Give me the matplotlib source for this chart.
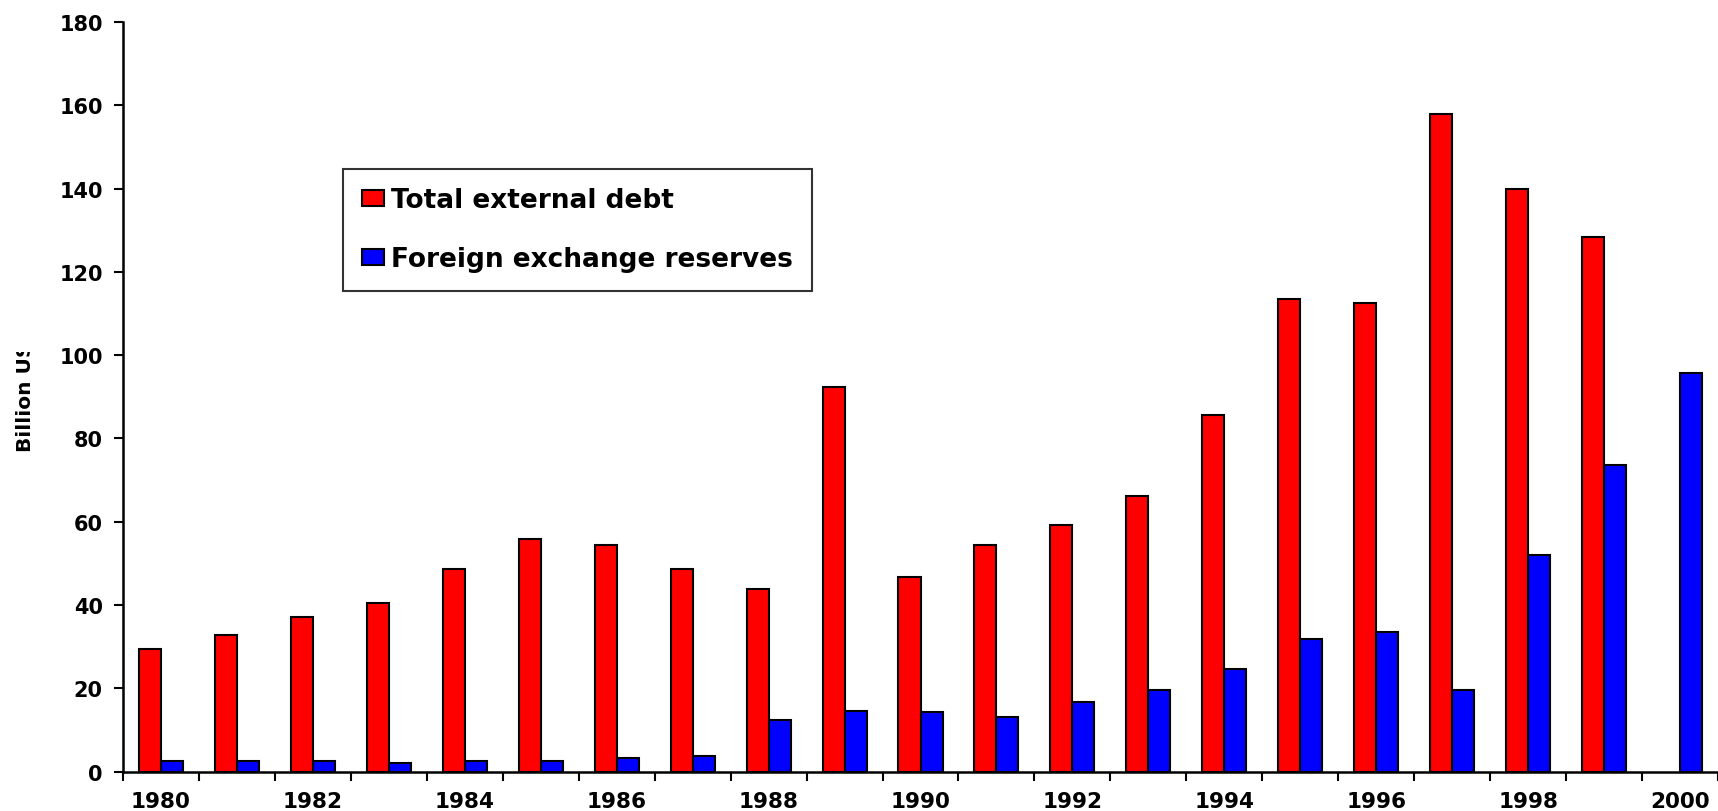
import matplotlib
matplotlib.use("Agg")
import matplotlib.pyplot as plt
import numpy as np
from matplotlib.transforms import Bbox, TransformedBbox

years = list(range(1980, 2001))
external_debt = [29.5, 32.9, 37.1, 40.5, 48.7, 55.8, 54.5, 48.7, 43.9, 92.4,
                 46.8, 54.5, 59.2, 66.1, 85.5, 113.4, 112.6, 157.9, 140.0, 128.4, 0]
fx_reserves = [2.6, 2.6, 2.6, 2.1, 2.6, 2.6, 3.2, 3.7, 12.4, 14.5,
               14.2, 13.2, 16.6, 19.5, 24.7, 31.8, 33.4, 19.5, 52.1, 73.7, 95.8]
year_labels = [str(y) for y in years[::2]]

plt.rcParams['font.family'] = 'DejaVu Sans'
plt.rcParams['font.weight'] = 'bold'

fig = plt.figure(figsize=(17.18, 8.12), dpi=100)
ax = fig.add_axes([0.0716, 0.0486, 0.9284, 0.9231])

x = np.arange(len(years))
w = 0.29
debt = np.array(external_debt, dtype=float)
ax.bar(x[debt > 0] - w / 2, debt[debt > 0], w, color='#ff0000', edgecolor='black',
       linewidth=1.5, label='Total external debt')
ax.bar(x + w / 2, fx_reserves, w, color='#0000ff', edgecolor='black',
       linewidth=1.5, label='Foreign exchange reserves')

ax.set_xlim(-0.5, len(years) - 0.5)
ax.set_ylim(0, 180)
ax.set_yticks(np.arange(0, 181, 20))
ax.tick_params(axis='y', labelsize=15, length=6.5, width=1.5, pad=8)

# ticks between categories, labels centred under every other year
ax.set_xticks(np.arange(-0.5, len(years), 1))
ax.set_xticklabels([])
ax.set_xticks(x[::2], minor=True)
ax.set_xticklabels(year_labels, minor=True)
ax.tick_params(axis='x', which='major', length=6.5, width=1.5)
ax.tick_params(axis='x', which='minor', length=0, labelsize=15.5, pad=14)

for side in ['top', 'right']:
    ax.spines[side].set_visible(False)
for side in ['left', 'bottom']:
    ax.spines[side].set_linewidth(1.8)

leg = ax.legend(loc='upper left', bbox_to_anchor=(0.138, 0.804), borderaxespad=0,
                fontsize=19, frameon=True, fancybox=False, edgecolor='black',
                handlelength=0.86, handleheight=0.54, handletextpad=0.27,
                borderpad=0.7, labelspacing=1.25)
leg.get_frame().set_linewidth(1.5)

# axis title is cut off at the top in the original
lab = fig.text(0.0146, 1 - 452 / 812, 'Billion US$', rotation=90, ha='center',
               va='bottom', fontsize=14.5, fontweight='bold')
lab.set_clip_box(TransformedBbox(Bbox([[0, 0], [0.06, 1 - 353 / 812]]), fig.transFigure))
lab.set_clip_on(True)

fig.savefig('out.png', dpi=100)
